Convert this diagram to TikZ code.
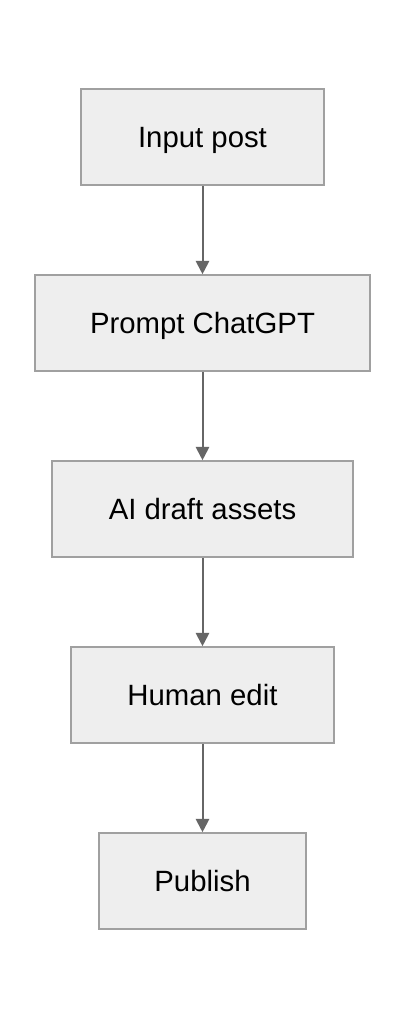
\documentclass[tikz,border=0pt]{standalone}
\usepackage{fontspec}
\setmainfont{Liberation Sans}
\usetikzlibrary{arrows.meta}
\definecolor{boxfill}{HTML}{EEEEEE}
\definecolor{boxline}{HTML}{A0A0A0}
\definecolor{arrowc}{HTML}{666666}
\begin{document}
\begin{tikzpicture}[x=0.75pt,y=-0.75pt,
  stepbox/.style={draw=boxline,fill=boxfill,line width=1.2pt,minimum height=72pt,inner sep=0pt,font=\fontsize{22}{26}\selectfont,text height=15.7pt,text depth=0pt,text=black},
  flow/.style={draw=arrowc,line width=1.5pt,-{Triangle[length=10pt,width=10pt]}}]
\useasboundingbox[fill=white] (0,0) rectangle (406,1020);
\node[stepbox,minimum width=182pt] (a) at (202.5,137) {Input post};
\node[stepbox,minimum width=251pt] (b) at (202.5,323) {Prompt ChatGPT};
\node[stepbox,minimum width=226pt] (c) at (202.5,509) {AI draft assets};
\node[stepbox,minimum width=197pt] (d) at (202.5,695) {Human edit};
\node[stepbox,minimum width=155pt] (e) at (202.5,881) {Publish};
\draw[flow] (a) -- (b);
\draw[flow] (b) -- (c);
\draw[flow] (c) -- (d);
\draw[flow] (d) -- (e);
\end{tikzpicture}
\end{document}
